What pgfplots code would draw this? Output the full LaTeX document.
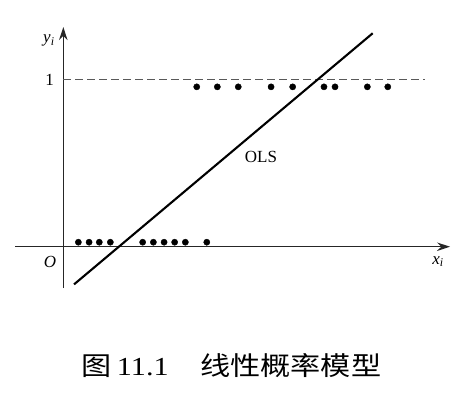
\documentclass[border=0pt]{standalone}
\usepackage{fontspec}
\setmainfont{Liberation Serif}
\newfontfamily\cjk{Noto Sans CJK SC}
\usepackage{graphicx}
\usepackage{pgfplots}
\pgfplotsset{compat=1.18}
\usetikzlibrary{arrows.meta}
\newcommand{\lblfont}{\fontsize{17bp}{20bp}\selectfont}
\begin{document}
\begin{tikzpicture}
\begin{axis}[
  x=16.74bp, y=167.4bp,
  scale only axis,
  axis lines=middle,
  xmin=-2.885, xmax=23.10, ymin=-0.247, ymax=1.312,
  xtick=\empty, ytick=\empty,
  axis line style={line width=1.3bp, black!85, -{Stealth[length=13bp,width=8.5bp]}},
  clip=false,
]
% dashed line y = 1
\addplot[gray!70!black, line width=1.2bp, dash pattern=on 7.5bp off 4.5bp] coordinates {(0,1) (21.6,1)};
% OLS line
\addplot[black, line width=2.1bp] coordinates {(0.64,-0.225) (18.48,1.275)};
% y = 0 observations
\addplot[only marks, mark=*, mark size=3.1bp, black] coordinates {
 (0.90,0.027) (1.54,0.027) (2.15,0.027) (2.81,0.027) (4.74,0.027)
 (5.38,0.027) (6.02,0.027) (6.65,0.027) (7.29,0.027) (8.57,0.027)};
% y = 1 observations
\addplot[only marks, mark=*, mark size=3.1bp, black] coordinates {
 (7.97,0.955) (9.20,0.955) (10.45,0.955) (12.41,0.955) (13.70,0.955)
 (15.57,0.955) (16.23,0.955) (18.16,0.955) (19.38,0.955)};
\node[font=\lblfont] at (axis cs:-0.86,1.23) {\textit{y}\textsubscript{\textit{i}}};
\node[font=\lblfont] at (axis cs:-0.824,0.994) {1};
\node[font=\lblfont] at (axis cs:-0.795,-0.0896) {\textit{O}};
\node[font=\lblfont] at (axis cs:22.38,-0.09) {\textit{x}\textsubscript{\textit{i}}};
\node[font=\lblfont] at (axis cs:11.81,0.539) {OLS};
\node at (axis cs:10.05,-0.7127) {\scalebox{1.16}[1]{\fontsize{26bp}{30bp}\selectfont{\cjk 图}\,11.1\hspace{1.05em}{\cjk 线性概率模型}}};
\coordinate (bl) at (axis cs:-3.781,-0.9875);
\coordinate (tr) at (axis cs:24.65,1.4737);
\end{axis}
\path (bl) rectangle (tr);
\end{tikzpicture}
\end{document}
